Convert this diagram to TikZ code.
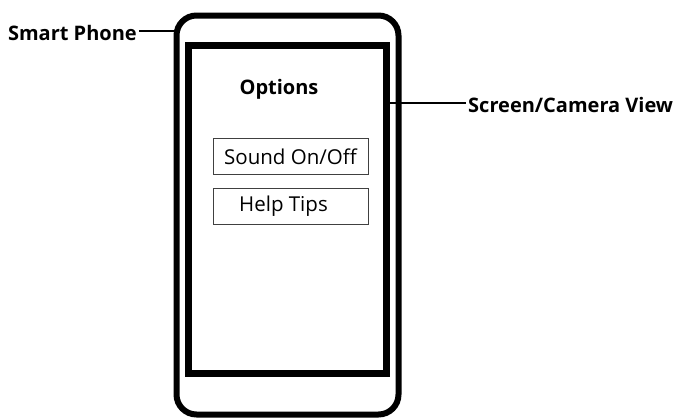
\documentclass[tikz,border=0pt]{standalone}
\usepackage{fontspec}
\setmainfont{Open Sans}
\usetikzlibrary{positioning}

\begin{document}
\begin{tikzpicture}
    [x=1pt, y=-1pt,
    node distance=13pt,
    callout/.style={
      font=\fontsize{20}{24}\selectfont\bfseries,
      inner sep=2pt},
    frame/.style={
      rectangle,
      draw=black},
    option/.style={
      rectangle,
      draw=black!75,
      line width=1pt,
      minimum width=155pt,
      minimum height=36pt,
      font=\fontsize{20.5}{24}\selectfont}
    ]
    \useasboundingbox (0,0) rectangle (683,418);
    % phone body and its screen
    \node (phone) [frame, rounded corners=20pt, line width=6pt,
      minimum width=222pt, minimum height=399pt] at (287.5,215) {};
    \node (screen) [frame, line width=7pt,
      minimum width=198pt, minimum height=328pt] at (287.5,209) {};
    % menu on the screen
    \node (title) [callout] at (279,89) {Options};
    \node (sound) [option] at (290.5,156.5) {Sound On/Off};
    \node (help) [option, below=of sound] {Help Tips\hspace*{14pt}};
    % callouts
    \node (phonelbl) [callout, anchor=east] at (139,33) {Smart Phone};
    \node (screenlbl) [callout, anchor=west] at (466,105) {Screen/Camera View};
    \draw[line width=2pt] (phonelbl.east |- 0,31) -- (phone.west |- 0,31);
    \draw[line width=2pt] (screen.east |- 0,103) -- (screenlbl.west |- 0,103);
\end{tikzpicture}
\end{document}
